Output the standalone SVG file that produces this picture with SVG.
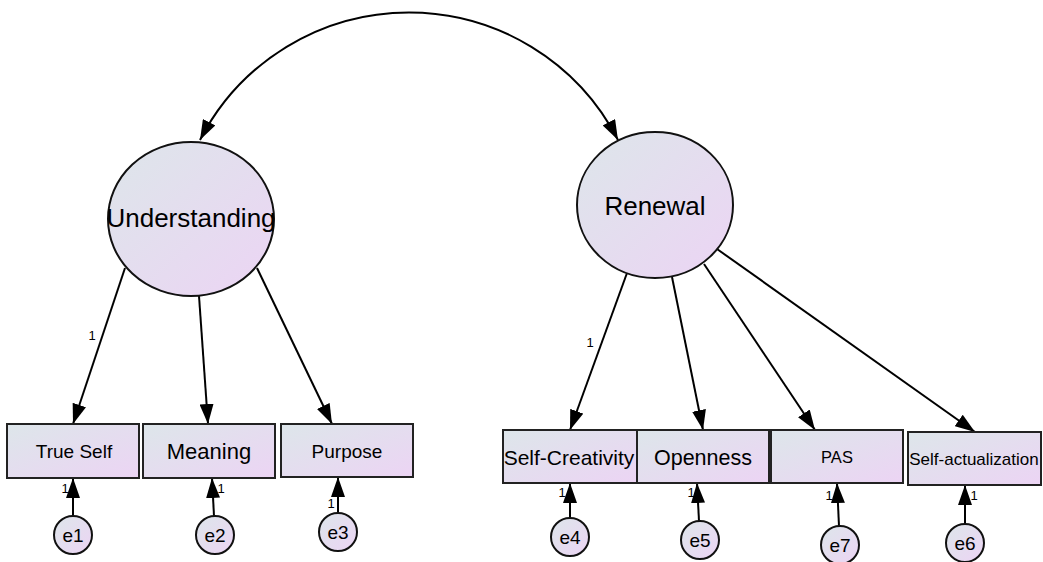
<svg xmlns="http://www.w3.org/2000/svg" width="1043" height="562" viewBox="0 0 1043 562">
<defs>
<linearGradient id="g" x1="0" y1="0" x2="1" y2="1">
<stop offset="0" stop-color="#dde6ea"/>
<stop offset="1" stop-color="#ecd4f4"/>
</linearGradient>
<marker id="ah" markerUnits="userSpaceOnUse" markerWidth="20" markerHeight="14" refX="20" refY="7" orient="auto-start-reverse">
<path d="M0,0 L20,7 L0,14 z" fill="#000"/>
</marker>
</defs>
<style>
.box{fill:url(#g);stroke:#222;stroke-width:2}
.lat{fill:url(#g);stroke:#111;stroke-width:2}
.err{fill:url(#g);stroke:#111;stroke-width:2}
.c{fill:none;stroke:#000;stroke-width:2;marker-end:url(#ah)}
text{font-family:"Liberation Sans",Arial,sans-serif;fill:#000;text-anchor:middle}
.n{font-size:13px}
.e{font-size:19px}
</style>
<g id="connectors">
<path d="M200,140 A235,235 0 0 1 618,140" style="fill:none;stroke:#000;stroke-width:2;marker-start:url(#ah);marker-end:url(#ah)"/>
<line class="c" x1="125" y1="268" x2="73" y2="424"/>
<line class="c" x1="199" y1="296" x2="208" y2="424"/>
<line class="c" x1="257" y1="268" x2="332" y2="424"/>
<line class="c" x1="627" y1="273" x2="570" y2="430"/>
<line class="c" x1="672" y1="277" x2="703" y2="430"/>
<line class="c" x1="704" y1="264" x2="815" y2="430"/>
<line class="c" x1="717" y1="249" x2="975" y2="432"/>
<line class="c" x1="73" y1="516" x2="73" y2="478"/>
<line class="c" x1="214" y1="516" x2="212" y2="478"/>
<line class="c" x1="338" y1="513" x2="338" y2="477"/>
<line class="c" x1="570" y1="518" x2="570" y2="483"/>
<line class="c" x1="699" y1="521" x2="697" y2="483"/>
<line class="c" x1="839" y1="526" x2="837" y2="483"/>
<line class="c" x1="965" y1="524" x2="965" y2="485"/>
<text class="n" x="92" y="340">1</text>
<text class="n" x="590" y="347">1</text>
<text class="n" x="65" y="493">1</text>
<text class="n" x="221" y="493">1</text>
<text class="n" x="331" y="508">1</text>
<text class="n" x="562" y="497">1</text>
<text class="n" x="691" y="497">1</text>
<text class="n" x="829" y="500">1</text>
<text class="n" x="974" y="500">1</text>
</g>
<g id="Understanding">
<ellipse class="lat" cx="191" cy="219" rx="83" ry="77"/>
<text x="191" y="227" style="font-size:26px">Understanding</text>
</g>
<g id="Renewal">
<ellipse class="lat" cx="655" cy="205" rx="78" ry="73"/>
<text x="655" y="215" style="font-size:26px">Renewal</text>
</g>
<g id="TrueSelf">
<rect class="box" x="7" y="424" width="132" height="54"/>
<text x="74" y="458" style="font-size:19px">True Self</text>
</g>
<g id="Meaning">
<rect class="box" x="143" y="424" width="132" height="54"/>
<text x="209" y="459" style="font-size:22px">Meaning</text>
</g>
<g id="Purpose">
<rect class="box" x="281" y="424" width="132" height="53"/>
<text x="347" y="458" style="font-size:19px">Purpose</text>
</g>
<g id="SelfCreativity">
<rect class="box" x="503" y="430" width="134" height="53"/>
<text x="569" y="465" style="font-size:21px">Self-Creativity</text>
</g>
<g id="Openness">
<rect class="box" x="637" y="430" width="132" height="53"/>
<text x="703" y="465" style="font-size:21.5px">Openness</text>
</g>
<g id="PAS">
<rect class="box" x="771" y="430" width="132" height="53"/>
<text x="837" y="463" style="font-size:16.5px">PAS</text>
</g>
<g id="SelfActualization">
<rect class="box" x="908" y="432" width="133" height="53"/>
<text x="974" y="465" style="font-size:17px">Self-actualization</text>
</g>
<g id="e1"><circle class="err" cx="73" cy="535" r="19"/><text class="e" x="73" y="542">e1</text></g>
<g id="e2"><circle class="err" cx="215" cy="535" r="19"/><text class="e" x="215" y="542">e2</text></g>
<g id="e3"><circle class="err" cx="338" cy="532" r="19"/><text class="e" x="338" y="539">e3</text></g>
<g id="e4"><circle class="err" cx="570" cy="537" r="19"/><text class="e" x="570" y="544">e4</text></g>
<g id="e5"><circle class="err" cx="700" cy="540" r="19"/><text class="e" x="700" y="547">e5</text></g>
<g id="e7"><circle class="err" cx="840" cy="545" r="19"/><text class="e" x="840" y="552">e7</text></g>
<g id="e6"><circle class="err" cx="965" cy="543" r="19"/><text class="e" x="965" y="550">e6</text></g>
</svg>
